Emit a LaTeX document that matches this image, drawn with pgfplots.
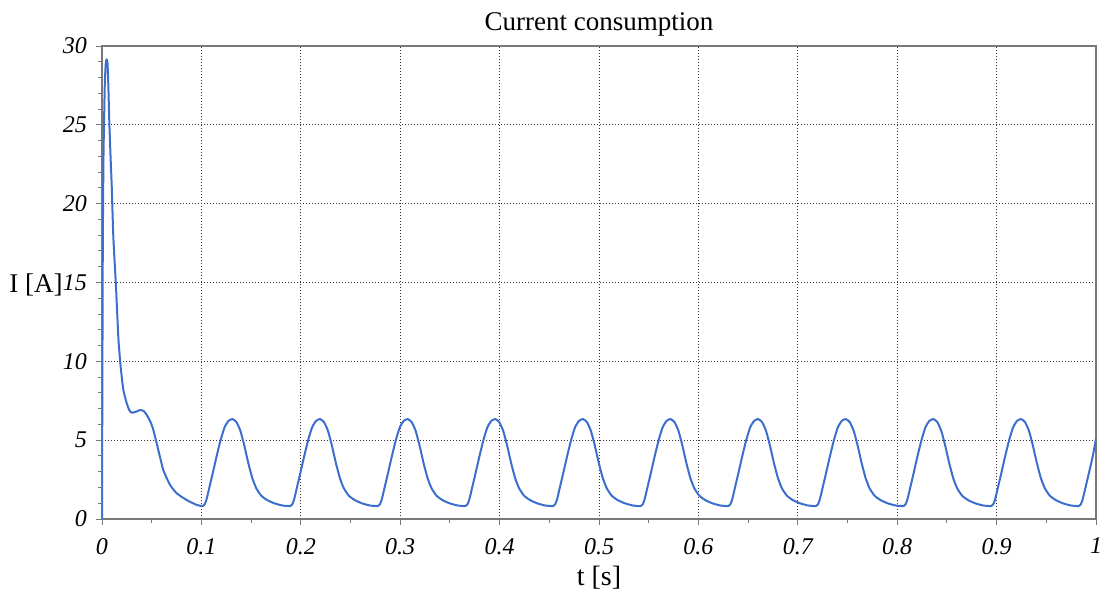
\documentclass[border=0pt]{standalone}
\usepackage{pgfplots}
\pgfplotsset{compat=1.18}
\usepackage{fontspec}
\setmainfont{Liberation Serif}
\definecolor{curve}{RGB}{60,110,205}
\definecolor{axgray}{RGB}{120,120,120}
\begin{document}
\begin{tikzpicture}
\begin{axis}[
  scale only axis,
  width=497pt, height=236.5pt,
  xmin=0, xmax=1, ymin=0, ymax=30,
  xtick={0,0.1,...,1.0},
  xticklabels={0,0.1,0.2,0.3,0.4,0.5,0.6,0.7,0.8,0.9,1},
  ytick={0,5,...,30},
  minor x tick num=1,
  minor y tick num=4,
  tick align=outside,
  xtick pos=left, ytick pos=left,
  major tick length=3pt, minor tick length=2pt,
  every tick/.style={axgray, line width=0.5pt},
  axis line style={axgray, line width=0.7pt},
  grid=major,
  major grid style={black!80, line width=0.4pt, dash pattern=on 0.6pt off 0.9pt},
  /pgf/number format/assume math mode=true,
  ticklabel style={font=\fontsize{12}{14}\selectfont\itshape},
  xticklabel style={yshift=-3pt},
  yticklabel style={xshift=-1pt},
  title={Current consumption},
  every axis title/.style={font=\fontsize{13.5}{16}\selectfont, at={(axis description cs:0.5,1)}, anchor=base, yshift=8pt},
  xlabel={t [s]},
  ylabel={I [A]},
  every axis x label/.style={at={(axis description cs:0.5,0)}, anchor=center, yshift=-29.5pt, font=\fontsize{14}{16}\selectfont},
  every axis y label/.style={at={(axis description cs:0,0.5)}, anchor=base east, inner sep=0pt, xshift=-19.5pt, yshift=-4.85pt, font=\fontsize{13.5}{16}\selectfont},
]
\addplot[curve, line width=1pt, line join=round, smooth, tension=0.35] coordinates {
(0,0) (0.0003,7) (0.0008,17) (0.0015,23) (0.0028,27.5) (0.0038,28.9) (0.0047,29.15) (0.0056,28.9) (0.0065,27.2) (0.0074,25.1) (0.0086,23) (0.0098,21.1) (0.0114,17.9) (0.0141,14.7) (0.0164,11.56) (0.0180,10.2) (0.0191,9.45) (0.0215,8.18) (0.0249,7.34) (0.0275,6.9) (0.0299,6.74) (0.034,6.8) (0.0383,6.91) (0.042,6.85) (0.045,6.6) (0.0485,6.2) (0.0517,5.64) (0.0567,4.37) (0.0617,3.1) (0.0685,2.16) (0.0752,1.63) (0.0853,1.2) (0.0954,0.89)
(0.1012,0.82) (0.1032,0.92) (0.1052,1.25) (0.1082,2.05) (0.1112,2.85) (0.1152,3.95) (0.1192,4.98) (0.1232,5.80) (0.1272,6.22) (0.1312,6.34) (0.1352,6.15) (0.1392,5.60) (0.1432,4.65) (0.1472,3.55) (0.1512,2.60) (0.1552,1.95) (0.1602,1.48) (0.1662,1.20) (0.1732,1.00) (0.1812,0.86)
(0.1893,0.82) (0.1913,0.92) (0.1933,1.25) (0.1963,2.05) (0.1993,2.85) (0.2033,3.95) (0.2073,4.98) (0.2113,5.80) (0.2153,6.22) (0.2193,6.34) (0.2233,6.15) (0.2273,5.60) (0.2313,4.65) (0.2353,3.55) (0.2393,2.60) (0.2433,1.95) (0.2483,1.48) (0.2543,1.20) (0.2613,1.00) (0.2693,0.86)
(0.2775,0.82) (0.2795,0.92) (0.2815,1.25) (0.2845,2.05) (0.2875,2.85) (0.2915,3.95) (0.2955,4.98) (0.2995,5.80) (0.3035,6.22) (0.3075,6.34) (0.3115,6.15) (0.3155,5.60) (0.3195,4.65) (0.3235,3.55) (0.3275,2.60) (0.3315,1.95) (0.3365,1.48) (0.3425,1.20) (0.3495,1.00) (0.3575,0.86)
(0.3656,0.82) (0.3676,0.92) (0.3696,1.25) (0.3726,2.05) (0.3756,2.85) (0.3796,3.95) (0.3836,4.98) (0.3876,5.80) (0.3916,6.22) (0.3956,6.34) (0.3996,6.15) (0.4036,5.60) (0.4076,4.65) (0.4116,3.55) (0.4156,2.60) (0.4196,1.95) (0.4246,1.48) (0.4306,1.20) (0.4376,1.00) (0.4456,0.86)
(0.4538,0.82) (0.4558,0.92) (0.4578,1.25) (0.4608,2.05) (0.4638,2.85) (0.4678,3.95) (0.4718,4.98) (0.4758,5.80) (0.4798,6.22) (0.4838,6.34) (0.4878,6.15) (0.4918,5.60) (0.4958,4.65) (0.4998,3.55) (0.5038,2.60) (0.5078,1.95) (0.5128,1.48) (0.5188,1.20) (0.5258,1.00) (0.5338,0.86)
(0.5419,0.82) (0.5439,0.92) (0.5459,1.25) (0.5489,2.05) (0.5519,2.85) (0.5559,3.95) (0.5599,4.98) (0.5639,5.80) (0.5679,6.22) (0.5719,6.34) (0.5759,6.15) (0.5799,5.60) (0.5839,4.65) (0.5879,3.55) (0.5919,2.60) (0.5959,1.95) (0.6009,1.48) (0.6069,1.20) (0.6139,1.00) (0.6219,0.86)
(0.6300,0.82) (0.6320,0.92) (0.6340,1.25) (0.6370,2.05) (0.6400,2.85) (0.6440,3.95) (0.6480,4.98) (0.6520,5.80) (0.6560,6.22) (0.6600,6.34) (0.6640,6.15) (0.6680,5.60) (0.6720,4.65) (0.6760,3.55) (0.6800,2.60) (0.6840,1.95) (0.6890,1.48) (0.6950,1.20) (0.7020,1.00) (0.7100,0.86)
(0.7182,0.82) (0.7202,0.92) (0.7222,1.25) (0.7252,2.05) (0.7282,2.85) (0.7322,3.95) (0.7362,4.98) (0.7402,5.80) (0.7442,6.22) (0.7482,6.34) (0.7522,6.15) (0.7562,5.60) (0.7602,4.65) (0.7642,3.55) (0.7682,2.60) (0.7722,1.95) (0.7772,1.48) (0.7832,1.20) (0.7902,1.00) (0.7982,0.86)
(0.8063,0.82) (0.8083,0.92) (0.8103,1.25) (0.8133,2.05) (0.8163,2.85) (0.8203,3.95) (0.8243,4.98) (0.8283,5.80) (0.8323,6.22) (0.8363,6.34) (0.8403,6.15) (0.8443,5.60) (0.8483,4.65) (0.8523,3.55) (0.8563,2.60) (0.8603,1.95) (0.8653,1.48) (0.8713,1.20) (0.8783,1.00) (0.8863,0.86)
(0.8945,0.82) (0.8965,0.92) (0.8985,1.25) (0.9015,2.05) (0.9045,2.85) (0.9085,3.95) (0.9125,4.98) (0.9165,5.80) (0.9205,6.22) (0.9245,6.34) (0.9285,6.15) (0.9325,5.60) (0.9365,4.65) (0.9405,3.55) (0.9445,2.60) (0.9485,1.95) (0.9535,1.48) (0.9595,1.20) (0.9665,1.00) (0.9745,0.86)
(0.9826,0.82) (0.9846,0.92) (0.9866,1.25) (0.9896,2.05) (0.9926,2.85) (0.9966,3.95) (1.0,5.1)
};
\end{axis}
\path (current axis.south west) ++(-51pt,-38.5pt) coordinate (bbA);
\path (current axis.north east) ++(4.5pt,23pt) coordinate (bbB);
\pgfresetboundingbox
\useasboundingbox (bbA) rectangle (bbB);
\end{tikzpicture}
\end{document}
